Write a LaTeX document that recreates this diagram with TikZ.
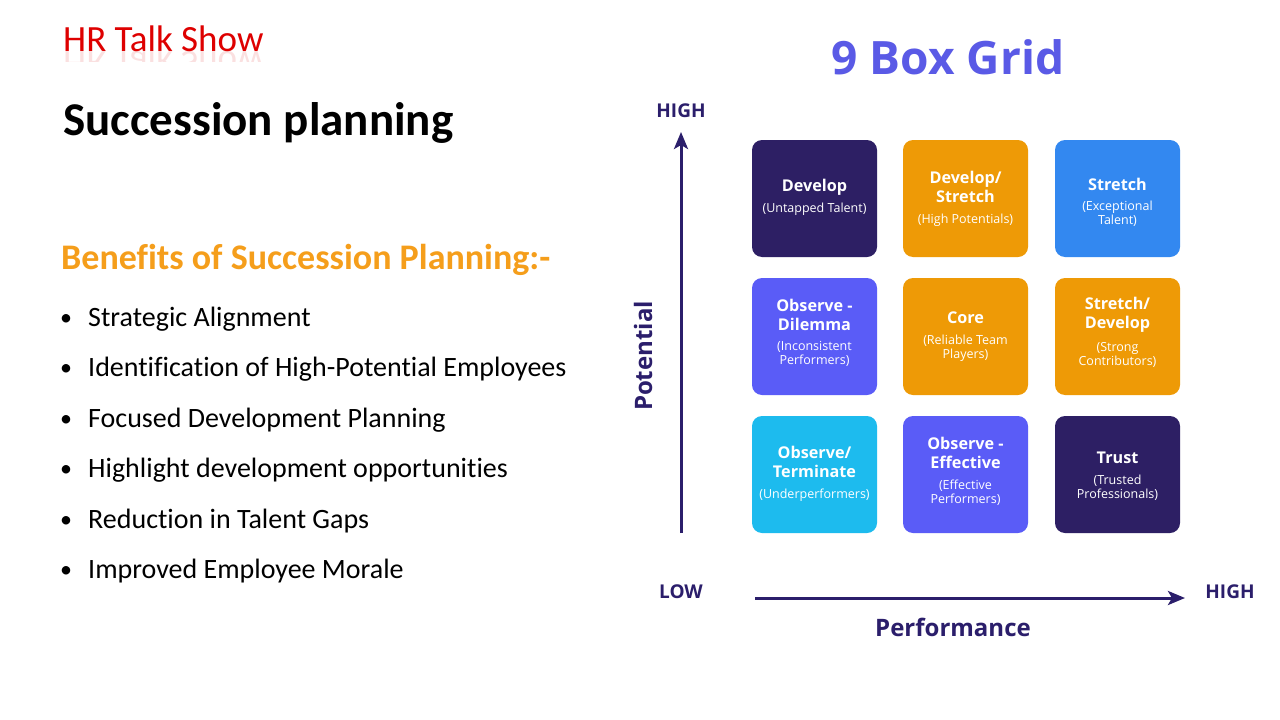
\documentclass[tikz,border=0pt]{standalone}
\usepackage{fontspec}
\setmainfont[Ligatures=NoCommon]{Carlito}
\newfontfamily\gridfont{Open Sans}
\usetikzlibrary{arrows.meta}
\definecolor{navy}{RGB}{45,31,100}
\definecolor{axisnavy}{RGB}{43,30,107}
\definecolor{boxorange}{RGB}{238,154,6}
\definecolor{boxblue}{RGB}{51,136,240}
\definecolor{boxpurple}{RGB}{90,92,247}
\definecolor{boxcyan}{RGB}{29,187,238}
\definecolor{gridtitle}{RGB}{90,90,230}
\definecolor{hrred}{RGB}{222,0,0}
\definecolor{benorange}{RGB}{245,158,27}
\newcommand{\bxt}{\gridfont\bfseries\fontsize{16.2}{19}\selectfont}
\newcommand{\bxs}{\gridfont\fontsize{12.5}{14}\selectfont}
\tikzset{
  gbox/.style={draw=none, rounded corners=10pt, minimum width=125pt, minimum height=117pt, inner sep=0pt},
  btitle/.style={text=white, font=\bxt, align=center, inner sep=0pt},
  bsub/.style={text=white, font=\bxs, align=center, inner sep=0pt},
  axislbl/.style={text=axisnavy, font=\gridfont\bfseries\fontsize{19}{21}\selectfont, inner sep=0pt},
  axisname/.style={text=axisnavy, font=\gridfont\bfseries\fontsize{24}{27}\selectfont, inner sep=0pt},
  axisarrow/.style={draw=axisnavy, line width=3pt, -{Stealth[length=17pt,width=14pt,inset=4pt]}},
  bullettext/.style={anchor=base west, inner sep=0pt, font=\fontsize{28}{32}\selectfont},
  bulletdot/.style={anchor=base west, inner sep=0pt, font=\fontsize{24}{28}\selectfont},
}
\begin{document}
\begin{tikzpicture}[x=1pt,y=-1pt]
\useasboundingbox[fill=white] (0,0) rectangle (1280,720);

% ---------- left side ----------
\node[anchor=base west, inner sep=0pt, text=hrred, font=\fontsize{37}{42}\selectfont] (hr) at (63,51) {HR Talk Show};
\begin{scope}
  \clip (60,51) rectangle (270,61);
  \node[anchor=base west, inner sep=0pt, text=hrred, text opacity=0.12, yscale=-1, transform shape, font=\fontsize{37}{42}\selectfont] (hrrefl) at (63,51) {HR Talk Show};
\end{scope}
\node[anchor=base west, inner sep=0pt, font=\bfseries\fontsize{47}{54}\selectfont] (title) at (63,135) {Succession planning};
\node[anchor=base west, inner sep=0pt, text=benorange, font=\bfseries\fontsize{36}{42}\selectfont] (benefits) at (61,269) {Benefits of Succession Planning:-};

\foreach \y/\t [count=\i] in {326/Strategic Alignment, 376/Identification of High-Potential Employees, 427/Focused Development Planning, 477/Highlight development opportunities, 528/Reduction in Talent Gaps, 578/Improved Employee Morale}{
  \node[bulletdot] (d\i) at (60,\y-1) {•};
  \node[bullettext] (l\i) at (88,\y) {\t};
}

% ---------- right side ----------
\node[text=gridtitle, font=\gridfont\bfseries\fontsize{46}{52}\selectfont, inner sep=0pt] (gt) at (948,57) {9 Box Grid};

% boxes
\node[gbox, fill=navy]       (b11) at (814.5,198.5) {};
\node[gbox, fill=boxorange]  (b12) at (965.5,198.5) {};
\node[gbox, fill=boxblue]    (b13) at (1117.5,198.5) {};
\node[gbox, fill=boxpurple]  (b21) at (814.5,336.5) {};
\node[gbox, fill=boxorange]  (b22) at (965.5,336.5) {};
\node[gbox, fill=boxorange]  (b23) at (1117.5,336.5) {};
\node[gbox, fill=boxcyan]    (b31) at (814.5,474.5) {};
\node[gbox, fill=boxpurple]  (b32) at (965.5,474.5) {};
\node[gbox, fill=navy]       (b33) at (1117.5,474.5) {};

% box texts
\node[btitle] (b11t) at (814.5,187) {Develop};
\node[bsub]   (b11s) at (814.5,209) {(Untapped Talent)};
\node[btitle] (b12t) at (965.5,186.5) {Develop/\\Stretch};
\node[bsub]   (b12s) at (965.5,220) {(High Potentials)};
\node[btitle] (b13t) at (1117.5,184) {Stretch};
\node[bsub]   (b13s) at (1117.5,214) {(Exceptional\\Talent)};

\node[btitle] (b21t) at (814.5,314.5) {Observe -\\Dilemma};
\node[bsub]   (b21s) at (814.5,354) {(Inconsistent\\Performers)};
\node[btitle] (b22t) at (965.5,318) {Core};
\node[bsub]   (b22s) at (965.5,348) {(Reliable Team\\Players)};
\node[btitle] (b23t) at (1117.5,314.5) {Stretch/\\Develop};
\node[bsub]   (b23s) at (1117.5,355) {(Strong\\Contributors)};

\node[btitle] (b31t) at (814.5,461.5) {Observe/\\Terminate};
\node[bsub]   (b31s) at (814.5,495) {(Underperformers)};
\node[btitle] (b32t) at (965.5,452.5) {Observe -\\Effective};
\node[bsub]   (b32s) at (965.5,493) {(Effective\\Performers)};
\node[btitle] (b33t) at (1117.5,458) {Trust};
\node[bsub]   (b33s) at (1117.5,488) {(Trusted\\Professionals)};

% axes
\coordinate (vs) at (681,533);
\coordinate (ve) at (681,132);
\coordinate (hs) at (755,598);
\coordinate (he) at (1185,598);
\draw[axisarrow] (vs) -- (ve);
\draw[axisarrow] (hs) -- (he);
\node[axislbl] (vhigh) at (681,111) {HIGH};
\node[axislbl] (hlow) at (681,592) {LOW};
\node[axislbl] (hhigh) at (1230,592) {HIGH};
\node[axisname, rotate=90] (pot) at (643,356) {Potential};
\node[axisname] (perf) at (953,627) {Performance};
\end{tikzpicture}
\end{document}
